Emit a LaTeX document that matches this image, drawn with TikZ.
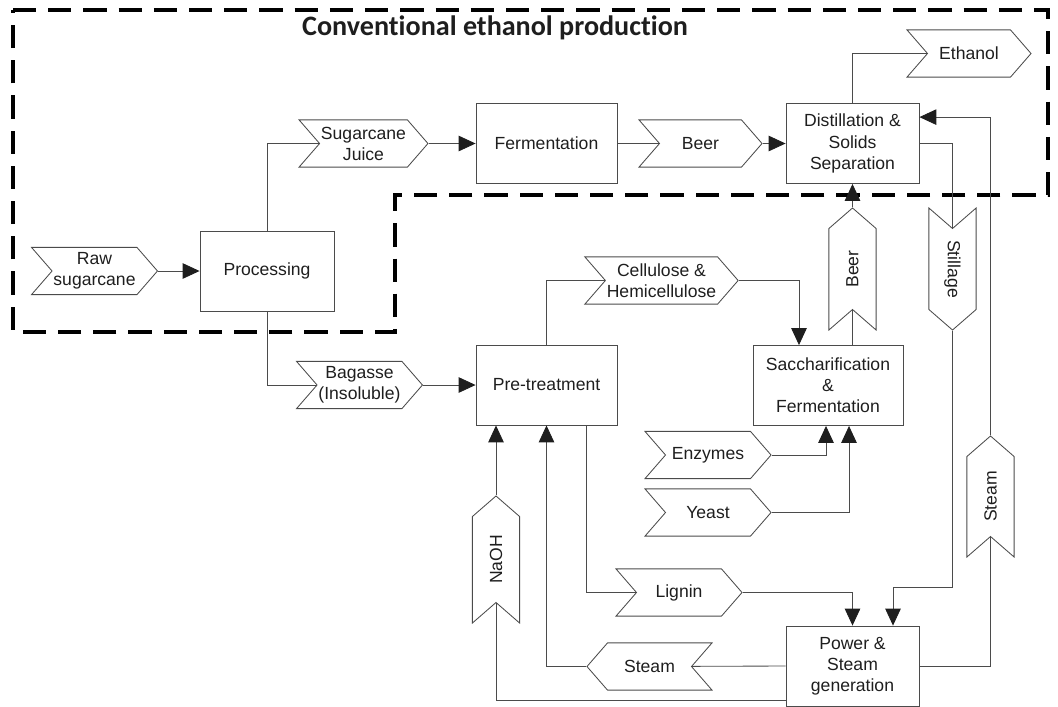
\documentclass[tikz,border=0pt]{standalone}
\usepackage{fontspec}
\setmainfont{Liberation Sans}
\newfontfamily\titlefont[Ligatures=NoCommon]{Carlito}
\usetikzlibrary{shapes.symbols,arrows.meta}

\definecolor{linegray}{RGB}{75,75,75}
\definecolor{textgray}{RGB}{30,30,30}

\tikzset{
  unit/.style={draw=linegray, line width=0.6pt, text=textgray, align=center,
    minimum height=2cm, inner sep=1pt, font=\fontsize{12.5}{15}\selectfont},
  stream/.style={draw=linegray, line width=0.6pt, text=textgray, align=center,
    signal, signal to=east, signal from=west, signal pointer angle=98,
    minimum width=3.125cm, minimum height=1.18cm, inner sep=1pt,
    font=\fontsize{12.5}{15}\selectfont},
  flow/.style={draw=linegray, line width=0.6pt},
  feed/.style={flow, -{Triangle[length=12pt, width=11pt, color=textgray]}}
}

\begin{document}
\begin{tikzpicture}[x=0.025cm, y=-0.025cm]
\useasboundingbox (0,0) rectangle (1058,706);

% conventional part
\draw[line width=2.6pt, dash pattern=on 0.58cm off 0.3cm]
  (13,10) -- (1048,10) -- (1048,195) -- (395,195) -- (395,332) -- (13,332) -- cycle;
\node[text=textgray] (title) at (495,28) {\titlefont\bfseries\fontsize{20}{23}\selectfont Conventional ethanol production};

% units
\node[unit, minimum width=3.35cm] (proc) at (267,271) {Processing};
\node[unit, minimum width=3.525cm] (ferm) at (546.5,143.5) {Fermentation};
\node[unit, minimum width=3.325cm] (dist) at (852.5,143.5) {Distillation \&\\Solids\\Separation};
\node[unit, minimum width=3.525cm] (pre) at (546.5,385) {Pre-treatment};
\node[unit, minimum width=3.75cm] (sacch) at (828,385.5) {Saccharification\\\&\\Fermentation};
\node[unit, minimum width=3.325cm] (power) at (852.5,666) {Power \&\\Steam\\generation};

% streams
\node[stream] (raw) at (94.5,271) {Raw\\sugarcane};
\node[stream, minimum width=3.025cm] (juice) at (363.5,143.5) {Sugarcane\\Juice};
\node[stream, minimum width=3.075cm] (beer) at (700.5,143.5) {Beer};
\node[stream, minimum width=3.1cm] (ethanol) at (969,53.5) {Ethanol};
\node[stream, minimum width=3.825cm] (cell) at (661.5,280.5) {Cellulose \&\\Hemicellulose};
\node[stream] (bagasse) at (359.5,385) {Bagasse\\(Insoluble)};
\node[stream, minimum width=3.15cm] (enz) at (708,455) {Enzymes};
\node[stream, minimum width=3.15cm] (yeast) at (708,512.5) {Yeast};
\node[stream, minimum width=3.15cm] (lignin) at (679,592.5) {Lignin};
\node[stream, signal to=west, signal from=east] (steamL) at (649.5,666.5) {Steam};
\node[stream, minimum width=3.05cm, rotate=90] (beerv) at (852.5,269) {Beer};
\node[stream, minimum width=3.05cm, rotate=-90] (still) at (952.5,269) {Stillage};
\node[stream, minimum width=3.175cm, rotate=90] (naoh) at (496,559.5) {NaOH};
\node[stream, minimum width=3.025cm, rotate=90] (steamR) at (990.5,496.5) {Steam};

% bends
\coordinate (sbend) at (893,587);

% sugarcane line
\draw[feed] (raw.east) -- (proc.west);
\draw[flow] (proc.north) |- (juice);
\draw[feed] (juice.east) -- (ferm.west);
\draw[flow] (ferm.east) -- (beer);
\draw[feed] (beer.east) -- (dist.west);
\draw[flow] (dist.north) |- (ethanol);
\draw[flow] (dist.east) -| (still);
\draw[feed] (still.east) |- (sbend) -- (sbend |- power.north);

% bagasse line
\draw[flow] (proc.south) |- (bagasse);
\draw[feed] (bagasse.east) -- (pre.west);
\draw[flow] (pre.north) |- (cell);
\draw[feed] (cell.east) -| ([xshift=-0.725cm]sacch.north);
\draw[flow] (beerv |- sacch.north) -- (beerv);
\draw[feed] (beerv.east) -- (dist.south);
\draw[feed] (enz.east) -| ([xshift=-0.05cm]sacch.south);
\draw[feed] (yeast.east) -| ([xshift=0.525cm]sacch.south);
\draw[feed] (naoh.east) -- (naoh.east |- pre.south);
\draw[flow] ([xshift=0.99cm]pre.south) |- (lignin);
\draw[feed] (lignin.east) -| (power.north);

% steam and power
\draw[flow] (power.west) -- (steamL);
\draw[feed] (steamL.west) -| (pre.south);
\draw[flow] ([yshift=-0.85cm]power.west) -| (naoh);
\draw[flow] (power.east) -| (steamR);
\draw[feed] (steamR.east) |- ([yshift=0.66cm]dist.east);
\end{tikzpicture}
\end{document}
